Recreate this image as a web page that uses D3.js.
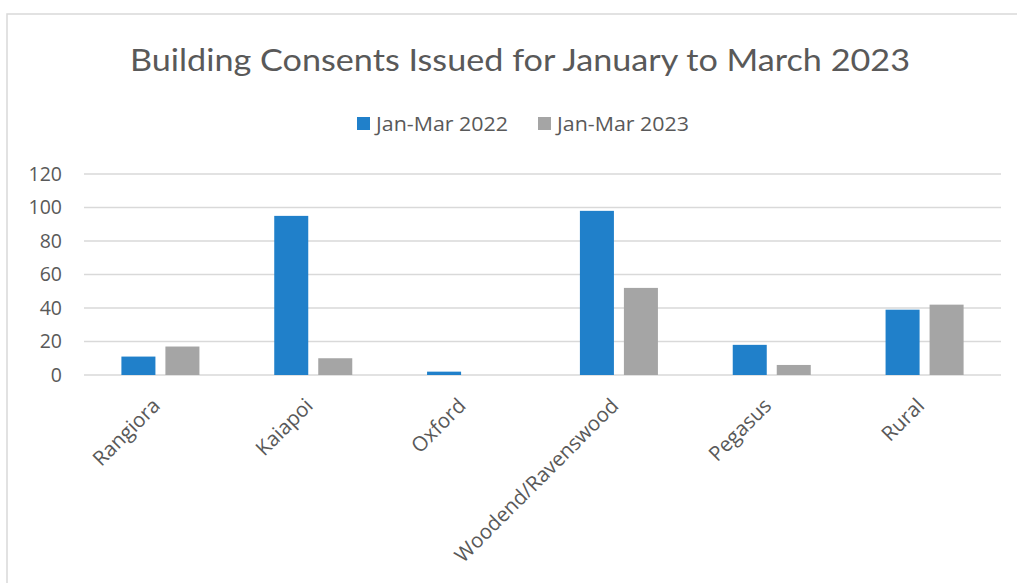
<!DOCTYPE html>
<html><head><meta charset="utf-8">
<script src="https://cdn.jsdelivr.net/npm/d3@7"></script>
<style>html,body{margin:0;padding:0;background:#fff;}svg{display:block;}</style>
</head><body>
<script>
const title = "Building Consents Issued for January to March 2023";
const categories = ["Rangiora","Kaiapoi","Oxford","Woodend/Ravenswood","Pegasus","Rural"];
const seriesNames = ["Jan-Mar 2022","Jan-Mar 2023"];
const values2022 = [11, 95, 2, 98, 18, 39];
const values2023 = [17, 10, 0, 52, 6, 42];
const yTicks = [0,20,40,60,80,100,120];
const colors = ["#2080CA","#A5A5A5"];

const W = 1017, H = 583;
const svg = d3.select("body").append("svg").attr("width", W).attr("height", H);
const textColor = "#595959";
const font = "'Open Sans', 'Noto Sans', sans-serif";

// outer frame
svg.append("rect").attr("x",7).attr("y",14).attr("width",W+20).attr("height",H+20)
  .attr("fill","none").attr("stroke","#d9d9d9").attr("stroke-width",1.5);

// title
svg.append("text").attr("x",520).attr("y",71).attr("text-anchor","middle")
  .attr("font-family","Lato, 'Open Sans', sans-serif").attr("font-weight",400)
  .attr("font-size",31).attr("fill",textColor)
  .attr("textLength",780).attr("lengthAdjust","spacingAndGlyphs")
  .text(title);

const plot = {left:84, right:1001, top:174, bottom:375};
const x = d3.scaleBand().domain(categories).range([plot.left, plot.right]).padding(0);
const xs = d3.scaleBand().domain(seriesNames).range([0, x.bandwidth()]).paddingInner(0.227).paddingOuter(0.85);
const y = d3.scaleLinear().domain([0,120]).range([plot.bottom, plot.top]);

// gridlines
svg.append("g").selectAll("line").data(yTicks).join("line")
  .attr("x1",plot.left).attr("x2",plot.right)
  .attr("y1",d=>y(d)).attr("y2",d=>y(d))
  .attr("stroke","#d9d9d9").attr("stroke-width",1.5);

// y axis labels
const yAxis = d3.axisLeft(y).tickValues(yTicks).tickSize(0).tickPadding(0);
const ga = svg.append("g").attr("transform",`translate(62,0)`).call(yAxis);
ga.select(".domain").remove();
ga.selectAll("text").attr("font-family",font).attr("font-size",19.5).attr("fill",textColor);

// bars
const seriesData = [values2022, values2023];
seriesNames.forEach((s,si)=>{
  svg.append("g").selectAll("rect").data(categories).join("rect")
    .attr("x",c=>x(c)+xs(s))
    .attr("width",xs.bandwidth())
    .attr("y",(c,i)=>y(seriesData[si][i]))
    .attr("height",(c,i)=>y(0)-y(seriesData[si][i]))
    .attr("fill",colors[si]);
});

// x labels
const gx = svg.append("g").attr("transform",`translate(0,${plot.bottom})`)
  .call(d3.axisBottom(x).tickSize(0).tickPadding(0));
gx.select(".domain").remove();
gx.selectAll("text")
  .attr("font-family",font).attr("font-size",20.5).attr("fill",textColor)
  .attr("text-anchor","end").attr("dy",null)
  .attr("transform","translate(1,32) rotate(-45)");

// legend
const legend = svg.append("g");
const legendX = [357, 538];
seriesNames.forEach((s,i)=>{
  legend.append("rect").attr("x",legendX[i]).attr("y",117).attr("width",13).attr("height",13).attr("fill",colors[i]);
  legend.append("text").attr("x",legendX[i]+19).attr("y",131)
    .attr("font-family",font).attr("font-size",20).attr("fill",textColor)
    .attr("textLength",132).attr("lengthAdjust","spacingAndGlyphs")
    .text(s);
});
</script>
</body></html>
